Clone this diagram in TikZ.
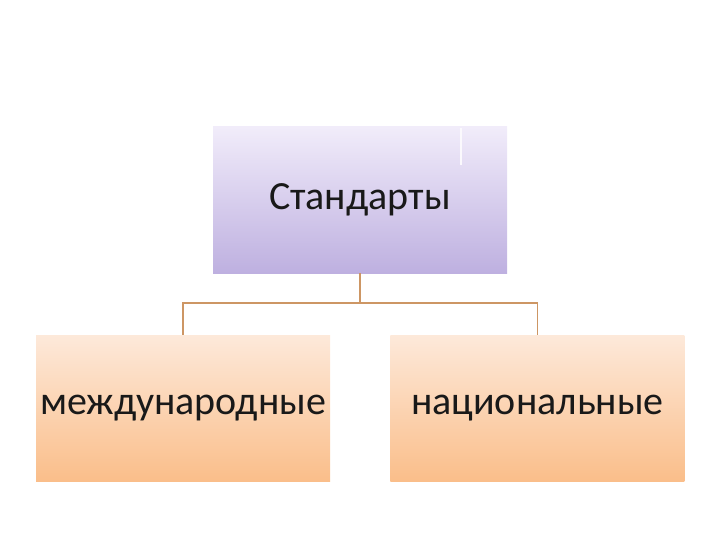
\documentclass[tikz,border=0pt]{standalone}
\usepackage{fontspec}
\setmainfont{Carlito}
\usetikzlibrary{positioning}

\definecolor{lavtop}{RGB}{241,236,250}
\definecolor{lavbot}{RGB}{190,176,224}
\definecolor{peachtop}{RGB}{253,233,218}
\definecolor{peachbot}{RGB}{250,190,138}
\definecolor{linkcol}{RGB}{205,150,100}

\begin{document}
\begin{tikzpicture}[
    x=1pt, y=1pt,
    node distance=60pt,
    every node/.style={font=\fontsize{40}{48}\selectfont, text=black!90},
    rootbox/.style={minimum width=294pt, minimum height=146pt, inner sep=0pt,
                    top color=lavtop, bottom color=lavbot},
    leafbox/.style={minimum width=294pt, minimum height=146pt, inner sep=0pt,
                    top color=peachtop, bottom color=peachbot},
    link/.style={draw=linkcol, line width=1.5pt}
]
   \useasboundingbox (0,0) rectangle (720,-540);

   % Boxes
   \node[rootbox] (std) at (360,-200) {\raisebox{-2pt}{Стандарты}};
   \node[leafbox] (intl) at (183,-408) {международные};
   \node[leafbox] (natl) [right=of intl] {национальные};

   % faint mark in the top box
   \draw[white!70!lavtop, line width=1.2pt] (461,-128) -- (461,-165);

   % Connectors
   \draw[link] (std.south) -- ++(0,-30) -| (intl.north);
   \draw[link] (std.south) -- ++(0,-30) -| (natl.north);
\end{tikzpicture}
\end{document}
